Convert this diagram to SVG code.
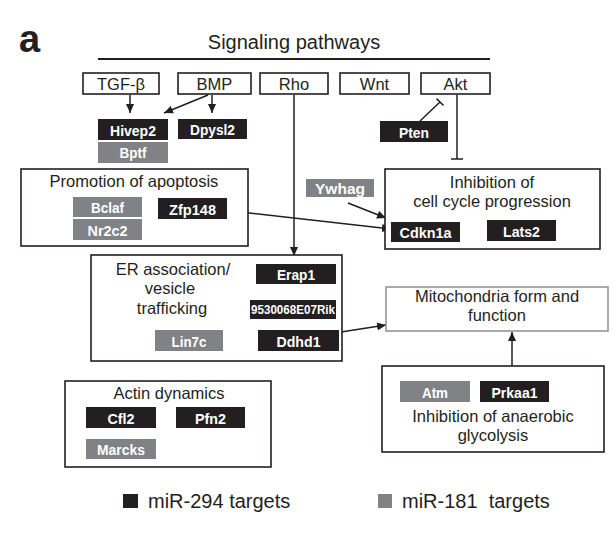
<svg xmlns="http://www.w3.org/2000/svg" width="616" height="550" viewBox="0 0 616 550">
<defs>
<style>
.box{fill:#fff;stroke:#231f20;stroke-width:1.6}
.gbox{fill:#fff;stroke:#939598;stroke-width:1.6}
.blk{fill:#231f20}
.gry{fill:#808285}
.lbl{font-family:"Liberation Sans",Arial,sans-serif;font-weight:bold;font-size:15.5px;fill:#fff;text-anchor:middle}
.t{font-family:"Liberation Sans",Arial,sans-serif;font-size:16.5px;fill:#231f20;text-anchor:middle}
.lg{font-family:"Liberation Sans",Arial,sans-serif;font-size:20px;fill:#231f20}
.ln{stroke:#231f20;stroke-width:1.5;fill:none}
</style>
<marker id="ah" viewBox="0 0 10 10" refX="10" refY="5" markerWidth="9" markerHeight="9" markerUnits="userSpaceOnUse" orient="auto">
<path d="M0,0.5 L10,5 L0,9.5 Z" fill="#231f20"/>
</marker>
</defs>
<rect width="616" height="550" fill="#fff"/>
<text x="19" y="52" font-family="'Liberation Sans',Arial,sans-serif" font-weight="bold" font-size="38" fill="#231f20">a</text>
<text x="294" y="49" class="t" style="font-size:20px">Signaling pathways</text>
<line x1="98" y1="59" x2="490" y2="59" stroke="#231f20" stroke-width="2"/>

<g id="connectors">
<line class="ln" x1="130" y1="95" x2="130" y2="113" marker-end="url(#ah)"/>
<line class="ln" x1="208" y1="95" x2="164" y2="113" marker-end="url(#ah)"/>
<line class="ln" x1="212" y1="95" x2="212" y2="113" marker-end="url(#ah)"/>
<line class="ln" x1="294" y1="95" x2="294" y2="256" marker-end="url(#ah)"/>
<line class="ln" x1="420" y1="121" x2="440" y2="102"/>
<line class="ln" x1="436.5" y1="98.4" x2="443.5" y2="105.6"/>
<line class="ln" x1="457" y1="95" x2="457" y2="159"/>
<line class="ln" x1="451" y1="159" x2="463" y2="159"/>
<line class="ln" x1="348" y1="203" x2="386" y2="218" marker-end="url(#ah)"/>
<line class="ln" x1="231" y1="211" x2="391" y2="229" marker-end="url(#ah)"/>
<line class="ln" x1="341" y1="332" x2="386" y2="325" marker-end="url(#ah)"/>
<line class="ln" x1="512" y1="381" x2="512" y2="332" marker-end="url(#ah)"/>
</g>

<g id="tgfb"><rect class="box" x="83" y="73" width="76" height="21"/><text class="t" x="121" y="89.5">TGF-β</text></g>
<g id="bmp"><rect class="box" x="178" y="73" width="73" height="21"/><text class="t" x="214.5" y="89.5">BMP</text></g>
<g id="rho"><rect class="box" x="260" y="73" width="68" height="21"/><text class="t" x="294" y="89.5">Rho</text></g>
<g id="wnt"><rect class="box" x="340" y="73" width="69" height="21"/><text class="t" x="374.5" y="89.5">Wnt</text></g>
<g id="akt"><rect class="box" x="421" y="73" width="69" height="21"/><text class="t" x="455.5" y="89.5">Akt</text></g>

<g id="hivep2"><rect class="blk" x="98" y="119" width="70" height="21"/><text class="lbl" x="133" y="135.5" textLength="46" lengthAdjust="spacingAndGlyphs">Hivep2</text></g>
<g id="bptf"><rect class="gry" x="98" y="142" width="70" height="21"/><text class="lbl" x="133" y="158" textLength="27" lengthAdjust="spacingAndGlyphs">Bptf</text></g>
<g id="dpysl2"><rect class="blk" x="178" y="119" width="69" height="20"/><text class="lbl" x="212.5" y="134.5" textLength="45" lengthAdjust="spacingAndGlyphs">Dpysl2</text></g>
<g id="pten"><rect class="blk" x="380" y="121" width="68" height="21"/><text class="lbl" x="414" y="137.5" textLength="30" lengthAdjust="spacingAndGlyphs">Pten</text></g>

<g id="apoptosis">
<rect class="box" x="21" y="169" width="227" height="77"/>
<text class="t" x="134" y="187">Promotion of apoptosis</text>
</g>
<g id="bclaf"><rect class="gry" x="73" y="197" width="69" height="20"/><text class="lbl" x="107.5" y="212.5" textLength="33" lengthAdjust="spacingAndGlyphs">Bclaf</text></g>
<g id="nr2c2"><rect class="gry" x="73" y="219" width="69" height="21"/><text class="lbl" x="107.5" y="235.5" textLength="40" lengthAdjust="spacingAndGlyphs">Nr2c2</text></g>
<g id="zfp148"><rect class="blk" x="158" y="198" width="69" height="21"/><text class="lbl" x="192.5" y="214.5" textLength="47" lengthAdjust="spacingAndGlyphs">Zfp148</text></g>

<g id="ywhag"><rect class="gry" x="306" y="179" width="68" height="18"/><text class="lbl" x="340" y="194" textLength="50" lengthAdjust="spacingAndGlyphs">Ywhag</text></g>

<g id="cellcycle">
<rect class="box" x="385" y="169" width="215" height="80"/>
<text class="t" x="492" y="188">Inhibition of</text>
<text class="t" x="492" y="207">cell cycle progression</text>
</g>
<g id="cdkn1a"><rect class="blk" x="391" y="222" width="69" height="20"/><text class="lbl" x="425.5" y="237.5" textLength="52" lengthAdjust="spacingAndGlyphs">Cdkn1a</text></g>
<g id="lats2"><rect class="blk" x="487" y="220" width="69" height="21"/><text class="lbl" x="521.5" y="236.5" textLength="37" lengthAdjust="spacingAndGlyphs">Lats2</text></g>

<g id="er">
<rect class="box" x="91" y="255" width="251" height="106"/>
<text class="t" x="173" y="275">ER association/</text>
<text class="t" x="170" y="294">vesicle</text>
<text class="t" x="172" y="314">trafficking</text>
</g>
<g id="erap1"><rect class="blk" x="256" y="264" width="80" height="20"/><text class="lbl" x="296" y="279.5" textLength="38" lengthAdjust="spacingAndGlyphs">Erap1</text></g>
<g id="rik"><rect class="blk" x="250" y="300" width="86" height="19"/><text class="lbl" x="293" y="314" style="font-size:12.5px" textLength="84" lengthAdjust="spacingAndGlyphs">9530068E07Rik</text></g>
<g id="lin7c"><rect class="gry" x="155" y="330" width="68" height="21"/><text class="lbl" x="189" y="346.5" textLength="35" lengthAdjust="spacingAndGlyphs">Lin7c</text></g>
<g id="ddhd1"><rect class="blk" x="258" y="330" width="81" height="21"/><text class="lbl" x="298.5" y="346.5" textLength="44" lengthAdjust="spacingAndGlyphs">Ddhd1</text></g>

<g id="mito">
<rect class="gbox" x="386" y="287" width="222" height="44"/>
<text class="t" x="497" y="302">Mitochondria form and</text>
<text class="t" x="497" y="321">function</text>
</g>

<g id="glycolysis">
<rect class="box" x="382" y="366" width="222" height="86"/>
<text class="t" x="493" y="422">Inhibition of anaerobic</text>
<text class="t" x="493" y="441">glycolysis</text>
</g>
<g id="atm"><rect class="gry" x="400" y="381" width="70" height="21"/><text class="lbl" x="435" y="397.5" textLength="26" lengthAdjust="spacingAndGlyphs">Atm</text></g>
<g id="prkaa1"><rect class="blk" x="480" y="381" width="69" height="21"/><text class="lbl" x="514.5" y="397.5" textLength="46" lengthAdjust="spacingAndGlyphs">Prkaa1</text></g>

<g id="actin">
<rect class="box" x="65" y="381" width="206" height="86"/>
<text class="t" x="169" y="399">Actin dynamics</text>
</g>
<g id="cfl2"><rect class="blk" x="86" y="407" width="70" height="21"/><text class="lbl" x="121" y="423.5" textLength="27" lengthAdjust="spacingAndGlyphs">Cfl2</text></g>
<g id="pfn2"><rect class="blk" x="176" y="407" width="69" height="21"/><text class="lbl" x="210.5" y="423.5" textLength="31" lengthAdjust="spacingAndGlyphs">Pfn2</text></g>
<g id="marcks"><rect class="gry" x="86" y="439" width="70" height="20"/><text class="lbl" x="121" y="454.5" textLength="48" lengthAdjust="spacingAndGlyphs">Marcks</text></g>

<g id="legend">
<rect class="blk" x="123" y="494" width="15" height="14"/>
<text class="lg" x="148" y="508">miR-294 targets</text>
<rect class="gry" x="378" y="494" width="14" height="14"/>
<text class="lg" x="402" y="508" xml:space="preserve">miR-181  targets</text>
</g>
</svg>
